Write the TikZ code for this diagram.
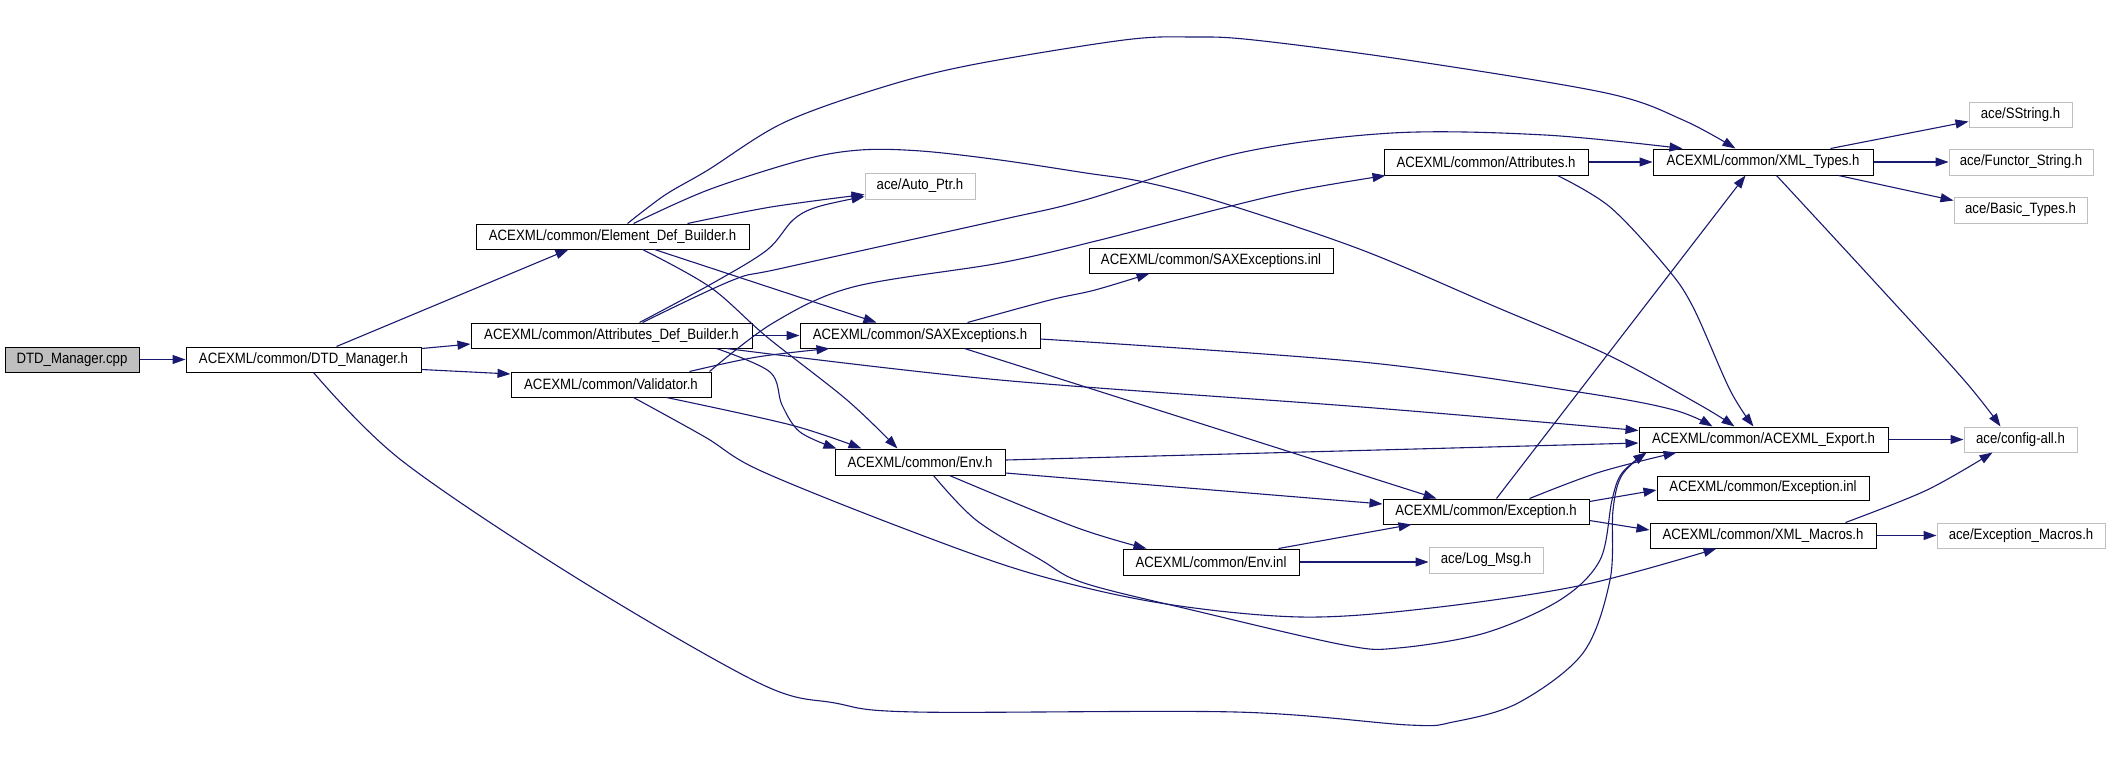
\documentclass[tikz,border=0pt]{standalone}
\usepackage{fontspec}
\setmainfont{Liberation Sans}[FakeStretch=0.88]
\usetikzlibrary{arrows.meta}
\definecolor{edgeblue}{HTML}{191970}
\definecolor{extgray}{HTML}{BFBFBF}
\begin{document}
\begin{tikzpicture}[x=1pt,y=-1pt,
  box/.style={draw=black, line width=1pt, rectangle, minimum height=25pt, inner sep=0pt, fill=white, font=\fontsize{15pt}{17pt}\selectfont},
  ext/.style={box, draw=extgray},
  edge/.style={draw=edgeblue, line width=1.1pt, -{Triangle[length=13pt,width=9pt]}},
  sm/.style={smooth, tension=0.55}]
\useasboundingbox (0,0) rectangle (2109,772);
% nodes
\node[box, fill=extgray] (cpp) at (72,359.5) [minimum width=134pt] {DTD\_Manager.cpp};
\node[box] (dtdh) at (303.5,359.5) [minimum width=235pt] {ACEXML/common/DTD\_Manager.h};
\node[box] (edb) at (612.5,236.5) [minimum width=273pt] {ACEXML/common/Element\_Def\_Builder.h};
\node[box] (adb) at (611.5,335.5) [minimum width=281pt] {ACEXML/common/Attributes\_Def\_Builder.h};
\node[box] (val) at (611,384.5) [minimum width=200pt] {ACEXML/common/Validator.h};
\node[ext] (autoptr) at (920,186) [minimum width=110pt, minimum height=26pt] {ace/Auto\_Ptr.h};
\node[box] (saxinl) at (1211,260.5) [minimum width=244pt] {ACEXML/common/SAXExceptions.inl};
\node[box] (sax) at (920,335.5) [minimum width=240pt] {ACEXML/common/SAXExceptions.h};
\node[box] (env) at (920,462) [minimum width=170pt, minimum height=26pt] {ACEXML/common/Env.h};
\node[box] (attr) at (1486,162) [minimum width=204pt, minimum height=26pt] {ACEXML/common/Attributes.h};
\node[box] (xmlt) at (1763,162) [minimum width=220pt, minimum height=26pt] {ACEXML/common/XML\_Types.h};
\node[ext] (sstring) at (2020.5,114.5) [minimum width=103pt] {ace/SString.h};
\node[ext] (functor) at (2021,162) [minimum width=144pt, minimum height=26pt] {ace/Functor\_String.h};
\node[ext] (basic) at (2020.5,210) [minimum width=133pt, minimum height=26pt] {ace/Basic\_Types.h};
\node[box] (export) at (1763.5,439.5) [minimum width=249pt] {ACEXML/common/ACEXML\_Export.h};
\node[ext] (config) at (2020.5,439.5) [minimum width=113pt] {ace/config-all.h};
\node[box] (excinl) at (1763,488) [minimum width=212pt, minimum height=24pt] {ACEXML/common/Exception.inl};
\node[box] (exc) at (1486,511.5) [minimum width=206pt] {ACEXML/common/Exception.h};
\node[box] (macros) at (1763,535.5) [minimum width=226pt] {ACEXML/common/XML\_Macros.h};
\node[ext] (excmacros) at (2021,535.5) [minimum width=168pt] {ace/Exception\_Macros.h};
\node[box] (envinl) at (1211,562) [minimum width=176pt, minimum height=26pt] {ACEXML/common/Env.inl};
\node[ext] (logmsg) at (1486,560) [minimum width=114pt, minimum height=26pt] {ace/Log\_Msg.h};
% edges
\draw[edge] (cpp.east) -- (dtdh.west);
\draw[edge] ([xshift=151pt]dtdh.north west) -- ([xshift=93pt]edb.south west);
\draw[edge] ([yshift=-2pt]dtdh.north east) -- ([yshift=-8.5pt]adb.west);
\draw[edge] plot[sm] coordinates {([yshift=3pt]dtdh.south east) (491,373) ([yshift=10.5pt]val.west)};
\draw[edge] plot[sm] coordinates {([xshift=128pt]dtdh.south west) (401,460) (575,577) (759,683) (835,703) (916,712) (1236,712) (1409,725) (1453,722) (1518,703) (1583,653) (1610,580) (1613,510) (1622,475) ([xshift=8pt]export.south west)};
% Element_Def_Builder
\draw[edge] plot[sm] coordinates {([xshift=152pt]edb.north west) (665,195) (708,170) (783,123) (880,88) (971,65) (1124,40) (1193,37) (1254,40) (1407,60) (1606,93) (1683,120) ([xshift=83pt]xmlt.north west)};
\draw[edge] plot[sm] coordinates {([xshift=158pt]edb.north west) (708,190) (802,160) (860,150) (921,151) (1000,160) (1086,173) (1144,182) (1223,203) (1362,250) (1496,307) (1608,355) (1700,405) ([xshift=96pt]export.north west)};
\draw[edge] plot[sm] coordinates {([xshift=212pt]edb.north west) (771,207) ([yshift=5pt]autoptr.south west)};
\draw[edge] ([xshift=179pt]edb.south west) -- ([xshift=77pt]sax.north west);
\draw[edge] plot[sm] coordinates {([xshift=167pt]edb.south west) (710,287) (767,337) (847,400) ([xshift=63pt]env.north west)};
% Attributes_Def_Builder
\draw[edge] plot[sm] coordinates {([xshift=169pt]adb.north west) (713,283) (767,250) (793,220) (817,207) ([yshift=3pt]autoptr.south west)};
\draw[edge] plot[sm] coordinates {([xshift=172pt]adb.north west) (733,280) (783,268) (1000,220) (1085,200) (1239,153) (1392,133) (1545,135) ([xshift=30pt]xmlt.north west)};
\draw[edge] (adb.east) -- (sax.west);
\draw[edge] plot[sm] coordinates {([xshift=246pt]adb.south west) (770,372) (782,405) (800,432) ([xshift=2pt]env.north west)};
\draw[edge] plot[sm] coordinates {([xshift=256pt]adb.south west) (1000,380) (1362,407) ([yshift=-4pt]export.north west)};
% Validator
\draw[edge] plot[sm] coordinates {([xshift=-2pt]val.north east) (773,323) (853,287) (1000,263) (1100,240) (1223,208) (1300,190) ([xshift=2pt]attr.south west)};
\draw[edge] plot[sm] coordinates {([xshift=179pt]val.north west) (757,357) ([xshift=30pt]sax.south west)};
\draw[edge] plot[sm] coordinates {([xshift=156pt]val.south west) (791,425) ([xshift=27pt]env.north west)};
\draw[edge] plot[sm] coordinates {([xshift=123pt]val.south west) (705,437) (759,470) (900,527) (1030,573) (1160,603) (1301,617) (1431,608) (1583,585) ([xshift=67pt]macros.south west)};
% SAXExceptions
\draw[edge] plot[sm] coordinates {([xshift=168pt]sax.north west) (1050,300) (1095,290) ([xshift=61pt]saxinl.south west)};
\draw[edge] plot[sm] coordinates {([yshift=-3.5pt]sax.east) (1362,362) (1585,393) (1674,410) ([xshift=74pt]export.north west)};
\draw[edge] ([xshift=165pt]sax.south west) -- ([xshift=54pt]exc.north west);
% Env
\draw[edge] ([yshift=2pt]env.east) -- ([yshift=-3.5pt]export.west);
\draw[edge] plot[sm] coordinates {([yshift=-11pt]env.east) (1200,489) ([yshift=7.5pt]exc.west)};
\draw[edge] plot[sm] coordinates {([xshift=115pt]env.south west) (1075,527) ([xshift=24pt]envinl.north west)};
\draw[edge] plot[sm] coordinates {([xshift=99pt]env.south west) (976,520) (1041,560) (1084,583) (1192,610) (1344,645) (1398,648) (1485,633) (1560,600) (1600,560) (1612,500) (1622,473) ([xshift=8pt]export.south west)};
% Exception
\draw[edge] ([xshift=114pt]exc.north west) -- ([xshift=93pt]xmlt.south west);
\draw[edge] plot[sm] coordinates {([xshift=147pt]exc.north west) (1600,472) ([xshift=38pt]export.south west)};
\draw[edge] ([yshift=-3pt]exc.north east) -- ([yshift=-2pt]excinl.west);
\draw[edge] ([yshift=4pt]exc.south east) -- ([yshift=5.5pt]macros.west);
% Env.inl
\draw[edge] ([xshift=156pt]envinl.north west) -- ([xshift=29pt]exc.south west);
\draw[edge] (envinl.east) -- (envinl.east -| logmsg.west);
% Attributes
\draw[edge] (attr.east) -- (xmlt.west);
\draw[edge] plot[sm] coordinates {([xshift=174pt]attr.south west) (1610,207) (1666,267) (1693,307) (1730,390) ([xshift=115pt]export.north west)};
% XML_Types
\draw[edge] ([xshift=178pt]xmlt.north west) -- ([yshift=-20pt]sstring.north west);
\draw[edge] (xmlt.east) -- (functor.west);
\draw[edge] ([xshift=186pt]xmlt.south west) -- ([yshift=-4pt]basic.north west);
\draw[edge] plot[sm] coordinates {([xshift=124pt]xmlt.south west) (1873,280) (1964,380) ([xshift=37pt]config.north west)};
% Export, Macros
\draw[edge] (export.east) -- (config.west);
\draw[edge] plot[sm] coordinates {([xshift=196pt]macros.north west) (1927,490) ([xshift=29pt]config.south west)};
\draw[edge] (macros.east) -- (excmacros.west);
\end{tikzpicture}
\end{document}
